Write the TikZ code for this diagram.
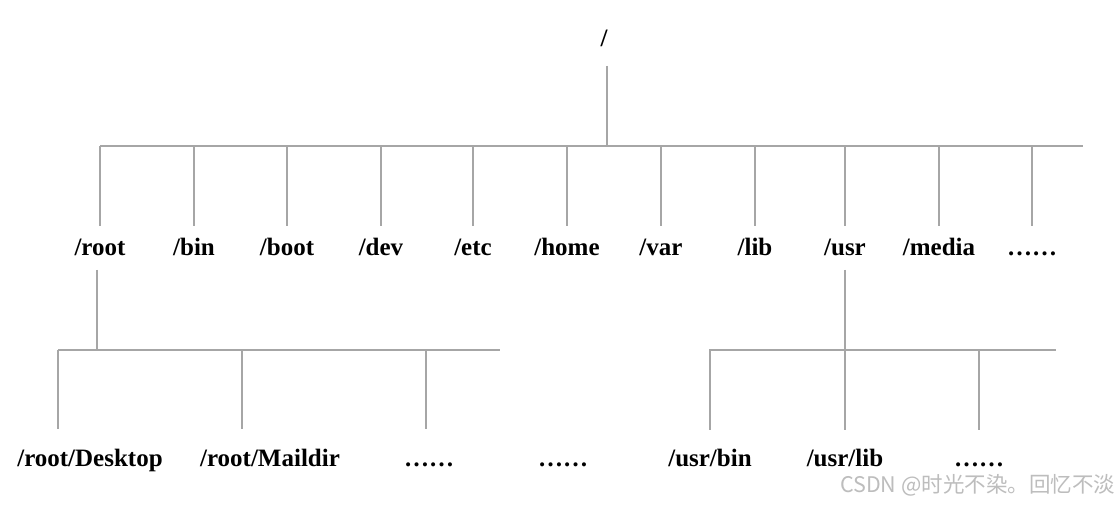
\documentclass[tikz,border=0pt]{standalone}
\usepackage{fontspec}
\setmainfont{Liberation Serif}
\newfontfamily\cjk{Noto Sans CJK SC}
\definecolor{linegray}{HTML}{A6A6A6}
\definecolor{markgray}{HTML}{BDBDBD}
\begin{document}
\begin{tikzpicture}[x=1pt,y=1pt,
  lbl/.style={anchor=base,inner sep=0pt,font=\fontsize{25}{30}\selectfont\bfseries},
  ln/.style={draw=linegray,line width=1.2pt},
  wmark/.style={anchor=base west,inner sep=0pt,text=markgray,font=\cjk\fontsize{21.5}{26}\selectfont}]
\useasboundingbox (0,0) rectangle (1120,-505);
\fill[white] (0,0) rectangle (1120,-505);
% root
\node[lbl] (rt) at (604,-47) {/};
\coordinate (T) at (607,-146);
\coordinate (Ttop) at (607,-66);
\coordinate (TL) at (100,-146);
\coordinate (TR) at (1083,-146);
\coordinate (Tend) at (0,-226);
% first level
\node[lbl] (root)  at (100,-256) {/root};
\node[lbl] (bin)   at (194,-256) {/bin};
\node[lbl] (boot)  at (287,-256) {/boot};
\node[lbl] (dev)   at (381,-256) {/dev};
\node[lbl] (etc)   at (473,-256) {/etc};
\node[lbl] (home)  at (567,-256) {/home};
\node[lbl] (var)   at (661,-256) {/var};
\node[lbl] (lib)   at (755,-256) {/lib};
\node[lbl] (usr)   at (845,-256) {/usr};
\node[lbl] (media) at (939,-256) {/media};
\node[lbl] (more)  at (1032,-256) {……};
\draw[ln] (Ttop) -- (T);
\draw[ln] (TL) -- (TR);
\foreach \c in {root,bin,boot,dev,etc,home,var,lib,usr,media,more}
  \draw[ln] (\c |- T) -- (\c |- Tend);
% second level, /root
\node[lbl] (desk) at (90,-466) {/root/Desktop};
\node[lbl] (mail) at (270,-466) {/root/Maildir};
\node[lbl] (rmore) at (429,-466) {……};
\node[lbl] (rmore2) at (563,-466) {……};
\coordinate (Rtop) at (97,-270);
\coordinate (R) at (97,-350);
\coordinate (RL) at (58,-350);
\coordinate (RR) at (500,-350);
\coordinate (R2) at (242,-350);
\coordinate (R3) at (426,-350);
\coordinate (Rend) at (0,-429);
\draw[ln] (Rtop) -- (R);
\draw[ln] (RL) -- (RR);
\foreach \k in {RL,R2,R3}
  \draw[ln] (\k) -- (\k |- Rend);
% second level, /usr
\node[lbl] (ubin) at (710,-466) {/usr/bin};
\node[lbl] (ulib) at (845,-466) {/usr/lib};
\node[lbl] (umore) at (979,-466) {……};
\coordinate (Utop) at (845,-270);
\coordinate (U) at (845,-350);
\coordinate (UL) at (709,-350);
\coordinate (UR) at (1056,-350);
\coordinate (Uend) at (0,-430);
\draw[ln] (Utop) -- (U);
\draw[ln] (UL) -- (UR);
\foreach \c in {ubin,ulib,umore}
  \draw[ln] (\c |- U) -- (\c |- Uend);
% watermark
\node[wmark] (wm) at (840,-492) {CSDN @时光不染。回忆不淡};
\end{tikzpicture}
\end{document}
